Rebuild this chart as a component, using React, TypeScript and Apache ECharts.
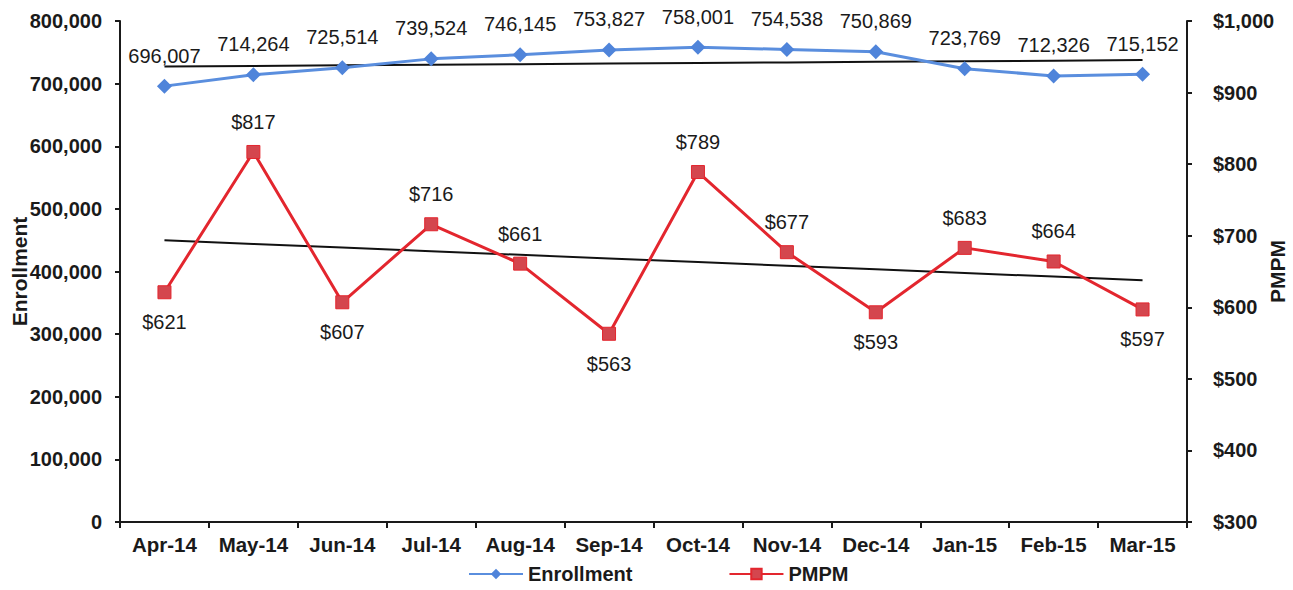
import React, { useEffect, useRef } from "react";
import * as echarts from "echarts";

const months = ["Apr-14", "May-14", "Jun-14", "Jul-14", "Aug-14", "Sep-14", "Oct-14", "Nov-14", "Dec-14", "Jan-15", "Feb-15", "Mar-15"];
const enrollment = [696007, 714264, 725514, 739524, 746145, 753827, 758001, 754538, 750869, 723769, 712326, 715152];
const pmpm = [621, 817, 607, 716, 661, 563, 789, 677, 593, 683, 664, 597];
const pmpmLabelBelowMonths = ["Apr-14", "Jun-14", "Sep-14", "Dec-14", "Mar-15"];

const leftTicks = { min: 0, max: 800000, interval: 100000 };
const rightTicks = { min: 300, max: 1000, interval: 100 };

function linearTrend(values: number[]): number[] {
  const n = values.length;
  const mx = (n - 1) / 2;
  const my = values.reduce((a, b) => a + b, 0) / n;
  let sxy = 0;
  let sxx = 0;
  values.forEach((v, i) => {
    sxy += (i - mx) * (v - my);
    sxx += (i - mx) * (i - mx);
  });
  const slope = sxy / sxx;
  return values.map((_, i) => my + slope * (i - mx));
}

const FONT = "Liberation Sans, Arial, sans-serif";
const fmtNum = (v: number) => Math.round(v).toLocaleString("en-US");

export default function App() {
  const ref = useRef<HTMLDivElement>(null);
  useEffect(() => {
    document.body.style.margin = "0";
    if (!ref.current) return;
    const chart = echarts.init(ref.current, undefined, { renderer: "svg" });
    const enrollTrend = linearTrend(enrollment);
    const pmpmTrend = linearTrend(pmpm);
    const blue = "#5a8ede";
    const blueMarker = "#4f84da";
    const red = "#e3262e";
    const redMarker = "#d4464e";
    const ink = "#1a1a1a";
    chart.setOption({
      animation: false,
      backgroundColor: "#ffffff",
      textStyle: { fontFamily: FONT },
      grid: { left: 120, right: 106, top: 21, bottom: 68, containLabel: false, outerBoundsMode: "none" },
      legend: {
        data: [{ name: "Enrollment" }, { name: "PMPM" }],
        bottom: 1,
        left: 463,
        itemWidth: 54,
        itemHeight: 13,
        itemGap: 96,
        textStyle: { fontSize: 20, fontWeight: "bold", color: ink, fontFamily: FONT },
      },
      xAxis: {
        type: "category",
        data: months,
        boundaryGap: true,
        axisLine: { lineStyle: { color: ink, width: 2 } },
        axisTick: { show: true, length: 6, lineStyle: { color: ink, width: 2 } },
        axisLabel: { interval: 0, hideOverlap: false, fontSize: 20.5, fontWeight: "bold", color: ink, margin: 12, fontFamily: FONT },
        splitLine: { show: false },
      },
      yAxis: [
        {
          type: "value",
          min: leftTicks.min,
          max: leftTicks.max,
          interval: leftTicks.interval,
          name: "Enrollment",
          nameLocation: "middle",
          nameRotate: 90,
          nameGap: 90,
          nameMoveOverlap: false,
          nameTextStyle: { fontSize: 21, fontWeight: "bold", color: ink, fontFamily: FONT },
          axisLine: { show: true, lineStyle: { color: ink, width: 2 } },
          axisTick: { show: true, length: 5, lineStyle: { color: ink, width: 2 } },
          axisLabel: { fontSize: 20, fontWeight: "bold", color: ink, margin: 18, formatter: (v: number) => fmtNum(v), fontFamily: FONT },
          splitLine: { show: false },
        },
        {
          type: "value",
          min: rightTicks.min,
          max: rightTicks.max,
          interval: rightTicks.interval,
          alignTicks: false,
          name: "PMPM",
          nameLocation: "middle",
          nameRotate: 90,
          nameGap: 80,
          nameMoveOverlap: false,
          nameTextStyle: { fontSize: 21, fontWeight: "bold", color: ink, fontFamily: FONT },
          axisLine: { show: true, lineStyle: { color: ink, width: 2 } },
          axisTick: { show: true, length: 5, lineStyle: { color: ink, width: 2 } },
          axisLabel: { fontSize: 20, fontWeight: "bold", color: ink, margin: 26, formatter: (v: number) => "$" + fmtNum(v), fontFamily: FONT },
          splitLine: { show: false },
        },
      ],
      series: [
        {
          name: "Enrollment trend",
          type: "line",
          yAxisIndex: 0,
          data: enrollTrend,
          symbol: "none",
          silent: true,
          lineStyle: { color: "#111111", width: 2 },
          z: 1,
        },
        {
          name: "PMPM trend",
          type: "line",
          yAxisIndex: 1,
          data: pmpmTrend,
          symbol: "none",
          silent: true,
          lineStyle: { color: "#111111", width: 2 },
          z: 1,
        },
        {
          name: "Enrollment",
          type: "line",
          yAxisIndex: 0,
          data: enrollment,
          symbol: "diamond",
          symbolSize: 15,
          color: blue,
          itemStyle: { color: blueMarker },
          lineStyle: { color: blue, width: 3 },
          label: {
            show: true,
            position: "top",
            distance: 13,
            fontSize: 20,
            color: ink,
            fontFamily: FONT,
            formatter: (p: any) => fmtNum(p.value),
          },
          z: 3,
        },
        {
          name: "PMPM",
          type: "line",
          yAxisIndex: 1,
          data: pmpm.map((v, i) => ({
            value: v,
            label: { position: pmpmLabelBelowMonths.includes(months[i]) ? "bottom" : "top" },
          })),
          symbol: "rect",
          symbolSize: 13,
          color: red,
          itemStyle: { color: redMarker, borderColor: red, borderWidth: 1 },
          lineStyle: { color: red, width: 3 },
          label: {
            show: true,
            position: "top",
            distance: 13,
            fontSize: 20,
            color: ink,
            fontFamily: FONT,
            formatter: (p: any) => "$" + fmtNum(p.value),
          },
          z: 3,
        },
      ],
    });
    return () => chart.dispose();
  }, []);
  return <div ref={ref} style={{ width: 1293, height: 590 }} />;
}
